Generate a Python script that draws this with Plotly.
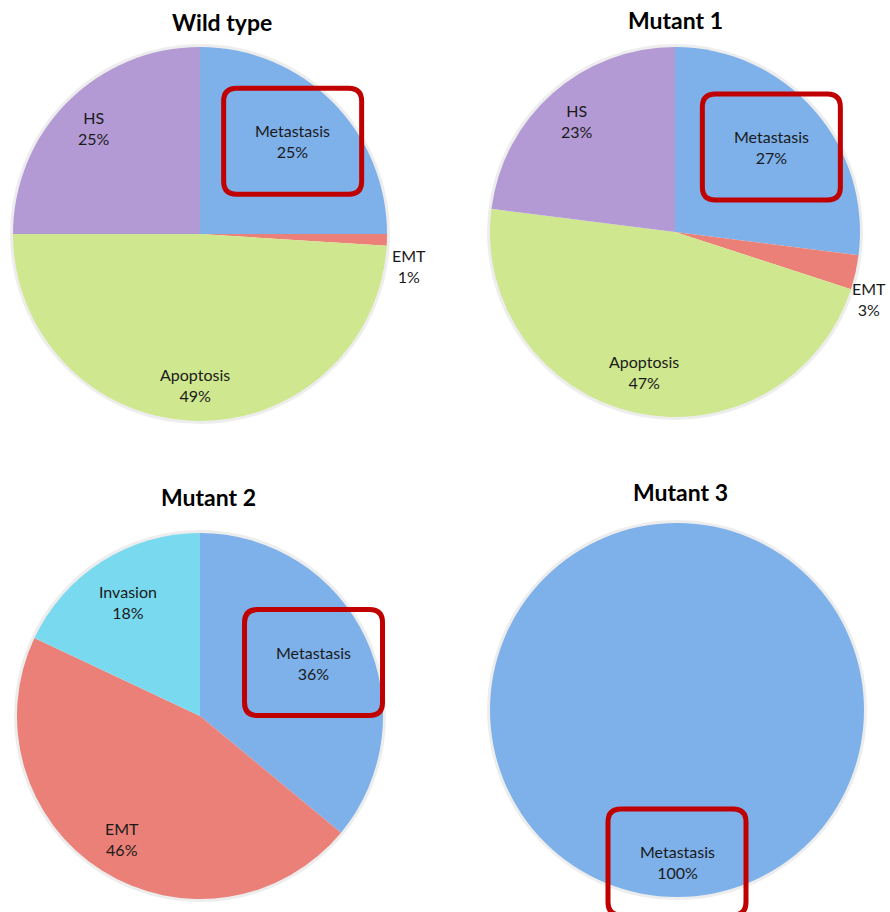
import numpy as np
import plotly.graph_objects as go

# ---- data -------------------------------------------------------------
titles = ["Wild type", "Mutant 1", "Mutant 2", "Mutant 3"]

wt_labels = ["Metastasis", "EMT", "Apoptosis", "HS"]
wt_values = [25, 1, 49, 25]

m1_labels = ["Metastasis", "EMT", "Apoptosis", "HS"]
m1_values = [27, 3, 47, 23]

m2_labels = ["Metastasis", "EMT", "Invasion"]
m2_values = [36, 46, 18]

m3_labels = ["Metastasis"]
m3_values = [100]

highlight = "Metastasis"

# ---- styling ----------------------------------------------------------
palette = {
    "Metastasis": "#7EB0EA",
    "EMT": "#EA8078",
    "Apoptosis": "#CFE78E",
    "HS": "#B49AD4",
    "Invasion": "#79D9EE",
}

W, H = 890, 912
FONT = "Lato"
LABEL_SIZE = 16
CHAR_W = 7.6      # approx. advance width of a label glyph, px
CAP_W = 11.0      # approx. advance width of an upper-case glyph, px
HALF_H = 20       # half height of a two-line label, px

# pie centre (px from left, px from top) and radius
geom = [(200, 234, 187), (675, 232, 185), (200, 716, 183), (677, 710, 187)]
title_xy = [(222, 22), (675, 20), (208, 497), (680, 492)]

series = [(wt_labels, wt_values), (m1_labels, m1_values),
          (m2_labels, m2_values), (m3_labels, m3_values)]


def px(x):
    return x / W


def py(y):
    return 1 - y / H


def rounded_rect(x0, y0, x1, y1, rad):
    pts = [
        f"M {px(x0 + rad)},{py(y0)}",
        f"L {px(x1 - rad)},{py(y0)}",
        f"Q {px(x1)},{py(y0)} {px(x1)},{py(y0 + rad)}",
        f"L {px(x1)},{py(y1 - rad)}",
        f"Q {px(x1)},{py(y1)} {px(x1 - rad)},{py(y1)}",
        f"L {px(x0 + rad)},{py(y1)}",
        f"Q {px(x0)},{py(y1)} {px(x0)},{py(y1 - rad)}",
        f"L {px(x0)},{py(y0 + rad)}",
        f"Q {px(x0)},{py(y0)} {px(x0 + rad)},{py(y0)}",
        "Z",
    ]
    return " ".join(pts)


fig = go.Figure()
annotations = []
shapes = []

for (labels, values), (cx, cy, r), title, (tx, ty) in zip(series, geom, titles, title_xy):
    # soft halo behind the pie
    shapes.append(dict(
        type="circle", xref="paper", yref="paper", layer="below",
        x0=px(cx - r - 1), x1=px(cx + r + 1), y0=py(cy + r + 1), y1=py(cy - r - 1),
        line=dict(color="rgba(0,0,0,0.07)", width=4), fillcolor="rgba(0,0,0,0)",
    ))

    fig.add_trace(go.Pie(
        labels=labels, values=values, sort=False,
        direction="clockwise", rotation=0,
        marker=dict(colors=[palette[l] for l in labels], line=dict(width=0)),
        textinfo="none", hoverinfo="label+percent", showlegend=False,
        domain=dict(x=[px(cx - r), px(cx + r)], y=[py(cy + r), py(cy - r)]),
    ))

    annotations.append(dict(
        text=f"<b>{title}</b>", x=px(tx), y=py(ty), xref="paper", yref="paper",
        showarrow=False, xanchor="center", yanchor="middle",
        font=dict(family=FONT, size=23, color="#000000"),
    ))

    total = float(sum(values))
    cum = 0.0
    for lab, v in zip(labels, values):
        frac = v / total
        mid = 2 * np.pi * (cum + v / 2) / total   # clockwise from 12 o'clock
        cum += v
        sx, sy = np.sin(mid), -np.cos(mid)
        pct = f"{frac:.0%}"
        text = f"{lab}<br>{pct}"
        if frac < 0.05:
            # thin slice: label sits just outside the rim
            x = cx + (r + 3) * sx
            y = cy + (r + 3) * sy + 4
            anchor = "left"
            if x + CAP_W * len(lab) > W - 2:
                x, anchor = W - 2, "right"
            annotations.append(dict(
                text=text, x=px(x), y=py(y), xref="paper", yref="paper",
                showarrow=False, xanchor=anchor, yanchor="top", align="center",
                font=dict(family=FONT, size=LABEL_SIZE, color="#1a1a1a"),
            ))
        else:
            hw = CHAR_W * max(len(lab), len(pct)) / 2
            d = 0.92 * r - (hw * abs(sx) + HALF_H * abs(sy))
            x = cx + d * sx
            y = cy + d * sy
            annotations.append(dict(
                text=text, x=px(x), y=py(y), xref="paper", yref="paper",
                showarrow=False, xanchor="center", yanchor="middle", align="center",
                font=dict(family=FONT, size=LABEL_SIZE, color="#1a1a1a"),
            ))
            if lab == highlight:
                shapes.append(dict(
                    type="path", xref="paper", yref="paper", layer="above",
                    path=rounded_rect(x - 69, y - 53, x + 69, y + 53, 13),
                    line=dict(color="#C00000", width=5),
                    fillcolor="rgba(0,0,0,0)",
                ))

fig.update_layout(
    width=W, height=H,
    margin=dict(l=0, r=0, t=0, b=0),
    paper_bgcolor="white", plot_bgcolor="white",
    annotations=annotations, shapes=shapes,
    font=dict(family=FONT),
)

fig.write_html("out.html")
